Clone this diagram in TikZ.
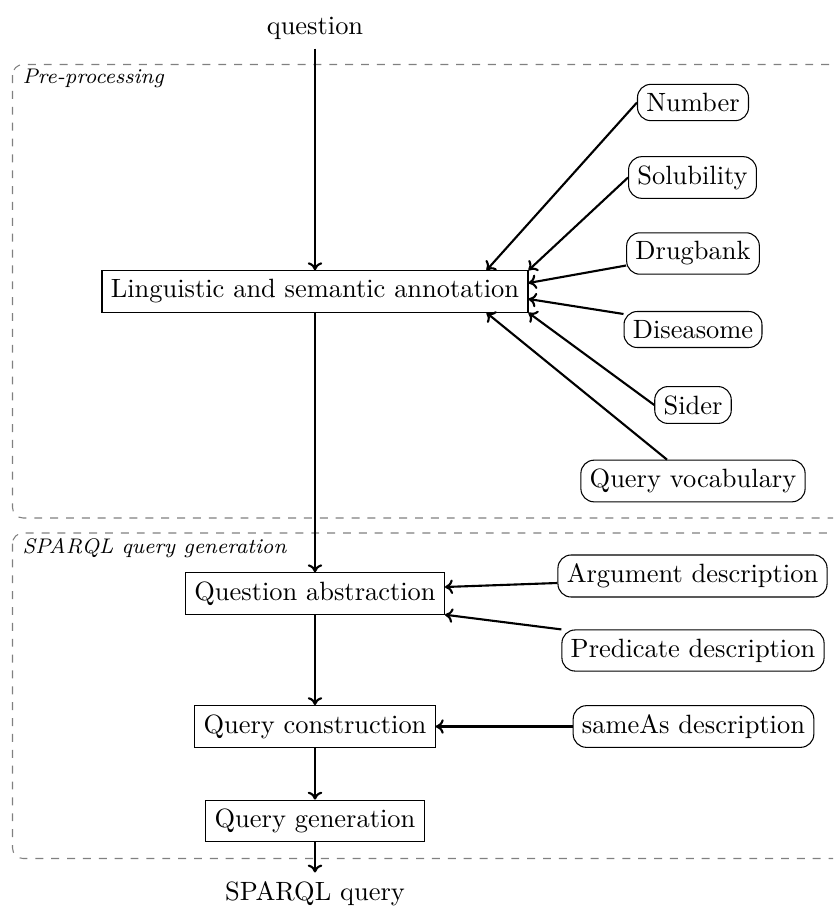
\documentclass[tikz,border=0pt]{standalone}
\usetikzlibrary{calc,arrows.meta}
\begin{document}
\begin{tikzpicture}[x=0.3782pt,y=-0.3782pt,
  proc/.style={draw, thin, rectangle},
  res/.style={draw, thin, rectangle, rounded corners=5pt},
  arr/.style={-{To[length=3pt, width=5.5pt]}, thick},
  grp/.style={draw=gray, dashed, rounded corners=4pt},
  grplabel/.style={font=\footnotesize\itshape, anchor=west, inner sep=0pt}]
\clip (0,0) rectangle (833,907);
\draw[grp] (12.5,64.5) rectangle (860,518);
\draw[grp] (12.5,533) rectangle (860,858.5);
\node[grplabel] (lpre) at (22,78) {Pre-processing};
\node[grplabel] (lsparql) at (22,548) {SPARQL query generation};

\node (q) at (315,28) {question};
\node[proc] (ling) at (315,291.5) {Linguistic and semantic annotation};
\node[res] (num) at (693,102.5) {Number};
\node[res] (sol) at (692.5,177.5) {Solubility};
\node[res] (drug) at (693,253.5) {Drugbank};
\node[res] (dis) at (693,329.5) {Diseasome};
\node[res] (sid) at (693,405) {Sider};
\node[res] (qv) at (693,481) {Query vocabulary};
\node[proc] (qa) at (315,593.5) {Question abstraction};
\node[res] (arg) at (692.5,576) {Argument description};
\node[res] (pred) at (693,650.5) {Predicate description};
\node[proc] (qc) at (315,726.5) {Query construction};
\node[res] (same) at (693.5,726.5) {sameAs description};
\node[proc] (qg) at (315,821) {Query generation};
\node (sq) at (315,894) {SPARQL query};

\draw[arr] (q) -- (ling);
\draw[arr] (ling) -- (qa);
\draw[arr] (qa) -- (qc);
\draw[arr] (qc) -- (qg);
\draw[arr] (qg) -- (sq);

\draw[arr] (num.west) -- ($(ling.north east)+(-42,0)$);
\draw[arr] (sol.west) -- (ling.north east);
\draw[arr] ($(drug.west)+(0,12)$) -- ($(ling.east)+(0,-8.5)$);
\draw[arr] ($(dis.north west)+(0,3)$) -- ($(ling.east)+(0,7.5)$);
\draw[arr] (sid.west) -- (ling.south east);
\draw[arr] ($(qv.north)+(-26,0)$) -- ($(ling.south east)+(-42,0)$);

\draw[arr] ($(arg.west)+(0,7)$) -- ($(qa.east)+(0,-6.5)$);
\draw[arr] (pred.north west) -- (qa.south east);
\draw[arr] (same) -- (qc);
\end{tikzpicture}
\end{document}
